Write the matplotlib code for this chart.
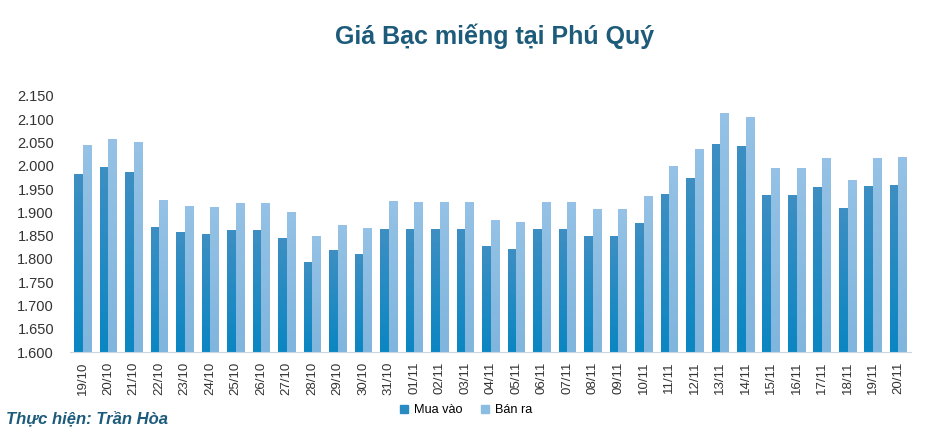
import matplotlib
matplotlib.use("Agg")
import matplotlib.pyplot as plt
import numpy as np
from matplotlib.ticker import FuncFormatter
from matplotlib.colors import LinearSegmentedColormap

dates = ["19/10","20/10","21/10","22/10","23/10","24/10","25/10","26/10","27/10","28/10",
         "29/10","30/10","31/10","01/11","02/11","03/11","04/11","05/11","06/11","07/11",
         "08/11","09/11","10/11","11/11","12/11","13/11","14/11","15/11","16/11","17/11",
         "18/11","19/11","20/11"]
mua_vao = [1982,1997,1986,1868,1857,1853,1860,1860,1843,1793,
           1817,1810,1864,1862,1862,1862,1827,1821,1862,1862,
           1849,1849,1875,1939,1973,2046,2042,1935,1935,1954,
           1909,1956,1958]
ban_ra = [2044,2057,2049,1926,1913,1911,1918,1918,1900,1849,
          1872,1866,1924,1920,1920,1920,1883,1879,1920,1920,
          1907,1907,1933,1999,2034,2111,2104,1995,1995,2016,
          1969,2016,2018]

plt.rcParams['font.family'] = ['Liberation Sans', 'DejaVu Sans']

fig = plt.figure(figsize=(9.27, 4.32), dpi=100)
ax = fig.add_axes([0.0755, 0.185, 0.9075, 0.593])

x = np.arange(len(dates))
w = 0.335
bars_buy = ax.bar(x - w/2, mua_vao, width=w, color="#1F88BE", label="Mua vào")
bars_sell = ax.bar(x + w/2, ban_ra, width=w, color="#8EC0E2", label="Bán ra")

cmap_buy = LinearSegmentedColormap.from_list("b", ["#0A86C3", "#3E8FC2"])
cmap_sell = LinearSegmentedColormap.from_list("s", ["#80B5DD", "#95C2E6"])
grad = np.linspace(0, 1, 256).reshape(-1, 1)
for bars, cm in ((bars_buy, cmap_buy), (bars_sell, cmap_sell)):
    for b in bars:
        x0 = b.get_x()
        x1 = x0 + b.get_width()
        h = b.get_height()
        b.set_alpha(0)
        ax.imshow(grad, extent=[x0, x1, 1600, h], origin="lower", aspect="auto",
                  cmap=cm, zorder=2, interpolation="bilinear")

ax.set_xlim(-0.5, len(dates) - 0.5)
ax.set_ylim(1600, 2150)
ax.set_aspect("auto")
ax.set_yticks(np.arange(1600, 2151, 50))
ax.yaxis.set_major_formatter(FuncFormatter(lambda v, p: f"{int(v):,}".replace(",", ".")))
ax.set_xticks(x)
ax.set_xticklabels(dates, rotation=90)
ax.tick_params(axis='both', length=0, colors="#333333")
ax.tick_params(axis='y', pad=11.5, labelsize=10.5)
ax.tick_params(axis='x', pad=7, labelsize=9.5)
for s in ["top", "right", "left"]:
    ax.spines[s].set_visible(False)
ax.spines["bottom"].set_color("#C9D6DF")
ax.spines["bottom"].set_zorder(3)

fig.text(0.534, 0.915, "Giá Bạc miếng tại Phú Quý", ha="center", va="center",
         fontsize=18, fontweight="bold", color="#1D5B7B")

handles = [plt.Rectangle((0, 0), 1, 1, color="#2A8BC2"), plt.Rectangle((0, 0), 1, 1, color="#8BBDE2")]
fig.legend(handles, ["Mua vào", "Bán ra"], loc="center", bbox_to_anchor=(0.503, 0.05),
           ncol=2, frameon=False, fontsize=9.2, handlelength=0.6, handleheight=0.6,
           columnspacing=1.4, handletextpad=0.5)

fig.text(0.006, 0.032, "Thực hiện: Trần Hòa", ha="left", va="center",
         fontsize=12, fontweight="bold", style="italic", color="#1D5B7B")

fig.savefig("out.png", dpi=100)
